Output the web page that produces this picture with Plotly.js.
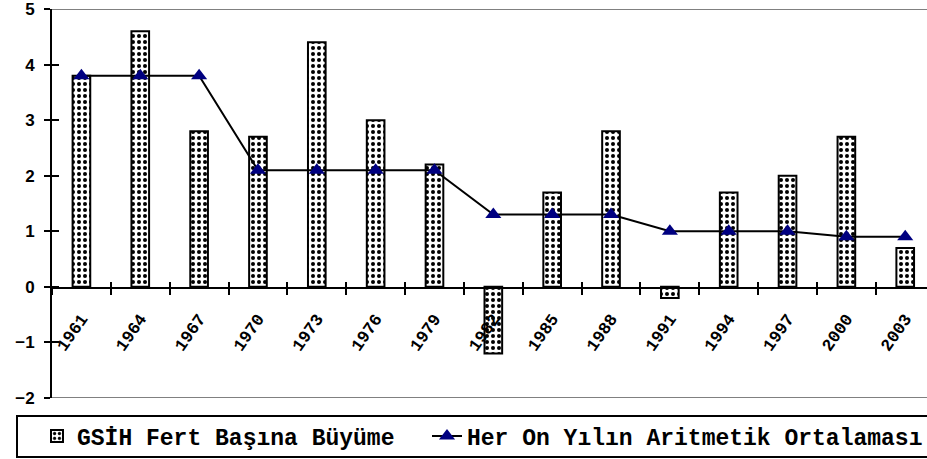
<!DOCTYPE html>
<html>
<head>
<meta charset="utf-8">
<script src="https://cdn.plot.ly/plotly-3.0.1.min.js"></script>
<style>html,body{margin:0;padding:0;background:#fff;}#chart{width:927px;height:459px;}</style>
</head>
<body>
<div id="chart"></div>
<script>
const years = ['1961','1964','1967','1970','1973','1976','1979','1982','1985','1988','1991','1994','1997','2000','2003'];
const growth = [3.8, 4.6, 2.8, 2.7, 4.4, 3.0, 2.2, -1.2, 1.7, 2.8, -0.2, 1.7, 2.0, 2.7, 0.7];
const decadeAvg = [3.8, 3.8, 3.8, 2.1, 2.1, 2.1, 2.1, 1.3, 1.3, 1.3, 1.0, 1.0, 1.0, 0.9, 0.9];
const barName = 'GSİH Fert Başına Büyüme';
const lineName = 'Her On Yılın Aritmetik Ortalaması';
const yTicks = [-2, -1, 0, 1, 2, 3, 4, 5];

const plotW = 875, plotH = 389, plotL = 52, plotB = 398;
const px = v => (v - plotL) / plotW;
const py = v => (plotB - v) / plotH;
const xPos = py(288);
const xRange = [-0.5, 14.37];
const mono = '"Courier New", "Liberation Mono", Courier, monospace';

const traces = [
  {
    type: 'bar', x: years, y: growth, name: barName, width: 0.3, legend: 'legend',
    marker: {
      color: 'white',
      line: {color: 'black', width: 2},
      pattern: {shape: '.', fgcolor: 'black', bgcolor: 'white', size: 6, solidity: 0.35}
    },
    hoverinfo: 'skip'
  },
  {
    type: 'scatter', mode: 'lines+markers', x: years, y: decadeAvg, name: lineName, legend: 'legend2',
    line: {color: 'black', width: 2},
    marker: {symbol: 'triangle-up', size: 14, color: '#000080', line: {width: 0}},
    hoverinfo: 'skip'
  },
  {
    type: 'scatter', mode: 'markers', x: years, y: growth, xaxis: 'x2', yaxis: 'y2',
    marker: {opacity: 0}, showlegend: false, hoverinfo: 'skip'
  }
];

const legendFont = {family: mono, size: 23, color: 'black', weight: 'bold'};
const layout = {
  width: 927, height: 459,
  margin: {l: 52, r: 0, t: 9, b: 61, autoexpand: false},
  paper_bgcolor: 'white', plot_bgcolor: 'white',
  showlegend: true,
  bargap: 0,
  xaxis: {
    type: 'category', range: xRange, anchor: 'free', position: xPos,
    showline: true, linecolor: 'black', linewidth: 2,
    ticks: 'outside', ticklen: 6, tickwidth: 2, tickcolor: 'black', tickson: 'boundaries',
    tickangle: -55, tickfont: {family: mono, size: 17, color: 'black', weight: 'bold'}, ticklabelstandoff: 13,
    showgrid: false, zeroline: false
  },
  xaxis2: {
    type: 'category', range: xRange, anchor: 'free', position: xPos, overlaying: 'x',
    showline: false, ticks: 'inside', ticklen: 6, tickwidth: 2, tickcolor: 'black', tickson: 'boundaries',
    showticklabels: false, showgrid: false, zeroline: false
  },
  yaxis: {
    range: [-2, 5], tickvals: yTicks,
    showline: true, linecolor: 'black', linewidth: 2,
    ticks: 'outside', ticklen: 6, tickwidth: 2, tickcolor: 'black',
    tickfont: {family: '"Liberation Sans", Arial, sans-serif', size: 17, color: 'black', weight: 'bold'},
    ticklabelstandoff: 6, ticklabeloverflow: 'allow',
    showgrid: false, zeroline: false
  },
  yaxis2: {
    range: [-2, 5], tickvals: yTicks, overlaying: 'y', anchor: 'x',
    showline: false, ticks: 'inside', ticklen: 7, tickwidth: 2, tickcolor: 'black',
    showticklabels: false, showgrid: false, zeroline: false
  },
  shapes: [
    {type: 'line', xref: 'paper', yref: 'y', x0: 0, x1: 1, y0: 5, y1: 5, line: {color: '#808080', width: 2}, layer: 'below'},
    {type: 'line', xref: 'paper', yref: 'y', x0: 0, x1: 1, y0: -2, y1: -2, line: {color: '#808080', width: 2}, layer: 'below'},
    {type: 'rect', xref: 'paper', yref: 'paper', x0: px(17), x1: px(940), y0: py(416), y1: py(457), line: {color: 'black', width: 2}, fillcolor: 'rgba(0,0,0,0)'}
  ],
  legend: {
    orientation: 'h', x: px(37), xanchor: 'left', y: py(436), yanchor: 'middle',
    borderwidth: 0, bgcolor: 'rgba(0,0,0,0)', font: legendFont
  },
  legend2: {
    orientation: 'h', x: px(427), xanchor: 'left', y: py(436), yanchor: 'middle',
    borderwidth: 0, bgcolor: 'rgba(0,0,0,0)', font: legendFont
  }
};

Plotly.newPlot('chart', traces, layout, {displayModeBar: false, staticPlot: true});
</script>
</body>
</html>
